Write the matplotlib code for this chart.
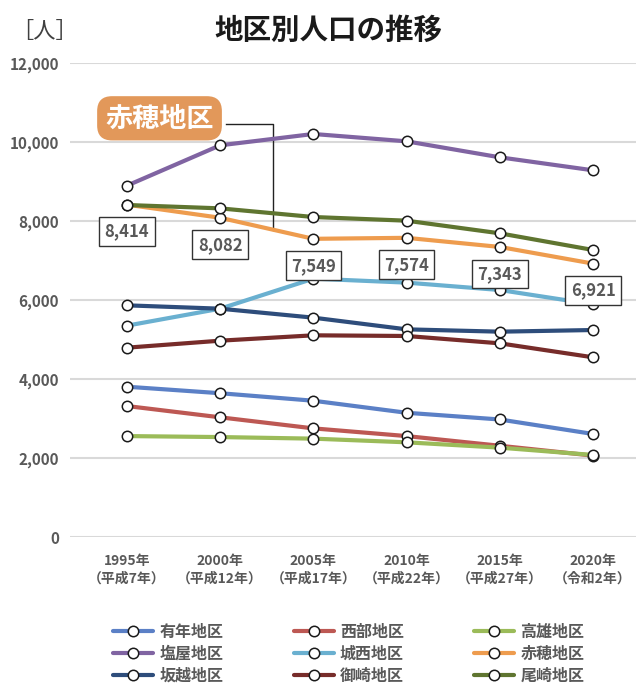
import numpy as np
import matplotlib
matplotlib.use("Agg")
import matplotlib.pyplot as plt

plt.rcParams['font.family'] = ['Noto Sans CJK JP', 'DejaVu Sans']

# данные по районам
years = ["1995年\n（平成7年）", "2000年\n（平成12年）", "2005年\n（平成17年）",
         "2010年\n（平成22年）", "2015年\n（平成27年）", "2020年\n（令和2年）"]

ariga = [3805, 3640, 3450, 3145, 2975, 2608]
seibu = [3316, 3030, 2750, 2555, 2310, 2060]
takao = [2555, 2530, 2490, 2397, 2262, 2076]
shioya = [8894, 9916, 10203, 10017, 9612, 9283]
jousei = [5350, 5780, 6540, 6440, 6253, 5890]
ako = [8414, 8082, 7549, 7574, 7343, 6921]
sakoshi = [5865, 5780, 5553, 5257, 5198, 5240]
misaki = [4793, 4970, 5106, 5089, 4903, 4549]
ozaki = [8405, 8320, 8101, 8008, 7688, 7266]

names = ["有年地区", "西部地区", "高雄地区", "塩屋地区", "城西地区",
         "赤穂地区", "坂越地区", "御崎地区", "尾崎地区"]
series = [ariga, seibu, takao, shioya, jousei, ako, sakoshi, misaki, ozaki]
colors = ["#5B80C6", "#BD5853", "#9BBB59", "#8064A2", "#6AB0D0",
          "#EE9C4E", "#2E4D7B", "#772C2A", "#5F7530"]

GRAY = "#595959"

fig = plt.figure(figsize=(6.36, 6.83), dpi=100)
ax = fig.add_axes([70 / 636, 146 / 683, 566 / 636, 474 / 683])

x = np.arange(len(years))
lines = []
for vals, name, col in zip(series, names, colors):
    ln, = ax.plot(x, vals, color=col, lw=3, marker='o', ms=7.5,
                  mfc='white', mec='#1a1a1a', mew=1.1, label=name,
                  clip_on=False, solid_capstyle='round')
    lines.append(ln)

ax.set_xlim(-0.61, 5.46)
ax.set_ylim(0, 12000)
ax.set_yticks(range(0, 12001, 2000))
ax.set_yticklabels([f"{v:,}" for v in range(0, 12001, 2000)])
ax.set_xticks(x)
ax.set_xticklabels(years)
ax.tick_params(length=0, colors=GRAY, labelsize=10)
ax.tick_params(axis='y', pad=8, labelsize=11)
ax.tick_params(axis='x', pad=12)
for lab in ax.get_xticklabels() + ax.get_yticklabels():
    lab.set_fontweight('bold')
    lab.set_linespacing(1.35)
for s in ax.spines.values():
    s.set_visible(False)
ax.grid(axis='y', color='#D9D9D9', lw=1.5)
ax.set_axisbelow(True)

# подписи значений для 赤穂地区
for xi, v in zip(x, ako):
    ax.annotate(f"{v:,}", (xi, v), xytext=(0, -27), textcoords='offset pixels',
                ha='center', va='center', fontsize=12, fontweight='bold', color=GRAY,
                bbox=dict(boxstyle='square,pad=0.32', fc='white', ec='#333333', lw=1))

# выноска
seg_x = 1.57
seg_y = np.interp(seg_x, x, ako)
ax.plot([1.06, seg_x, seg_x], [10456, 10456, seg_y], color='#222222', lw=1, zorder=1)
ax.text(0.35, 10600, "赤穂地区", ha='center', va='center', fontsize=19.5,
        fontweight='bold', color='white',
        bbox=dict(boxstyle='round,pad=0.3,rounding_size=0.55', fc='#E2985A', ec='none'))

fig.text(328 / 636, 1 - 31 / 683, "地区別人口の推移", ha='center', va='center',
         fontsize=20.5, fontweight='bold', color='#1a1a1a')
fig.text(45 / 636, 1 - 31 / 683, "［人］", ha='center', va='center',
         fontsize=16, color='#404040')

# легенда по строкам -> переставляем для ncol=3
order = [0, 3, 6, 1, 4, 7, 2, 5, 8]
leg = fig.legend([lines[i] for i in order], [names[i] for i in order], ncol=3,
                 loc='upper left', bbox_to_anchor=(113 / 636, 1 - 624 / 683),
                 frameon=False, borderpad=0, borderaxespad=0, handlelength=2.5,
                 handletextpad=0.4, columnspacing=4.4, labelspacing=0.36,
                 numpoints=1, prop={'size': 11.5, 'weight': 'bold'})
for t in leg.get_texts():
    t.set_color(GRAY)

plt.savefig("out.png", dpi=100)
plt.close()
